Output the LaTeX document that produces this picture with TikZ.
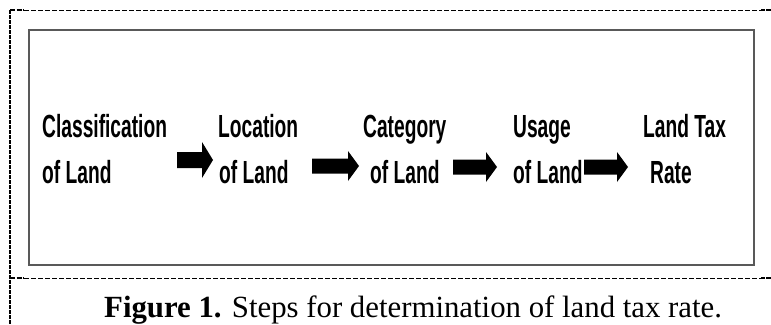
\documentclass[tikz,border=0pt]{standalone}
\usepackage{fontspec}
\setmainfont{Liberation Serif}
\newfontfamily\lblfont[FakeStretch=0.60]{Liberation Sans}
\usetikzlibrary{calc}
\tikzset{
  lbl/.style={anchor=base west, inner sep=0pt, text=black,
    font=\lblfont\bfseries\fontsize{32}{38}\selectfont},
  caption/.style={anchor=base west, inner sep=0pt, font=\fontsize{30.8}{36}\selectfont},
  hrule/.style={line width=0.9pt, dash pattern=on 5pt off 2pt},
  vrule/.style={line width=1.6pt, dash pattern=on 4pt off 1pt},
  endbit/.style={line width=1.8pt, dash pattern=on 5pt off 1.5pt},
  framebox/.style={draw=black!65, line width=2.2pt},
  blockfill/.style={fill=black}
}
\newcommand\blkarrow[4]{% start, end, half body, half head
  \fill[blockfill] ($(#1)+(0,-#3)$) -- ($(#2)+(-11,-#3)$) -- ($(#2)+(-11,-#4)$) -- (#2)
     -- ($(#2)+(-11,#4)$) -- ($(#2)+(-11,#3)$) -- ($(#1)+(0,#3)$) -- cycle;}
\begin{document}
\begin{tikzpicture}[x=1pt,y=-1pt]
\useasboundingbox (0,0) rectangle (771,324);
% table borders
\coordinate (tl) at (10,10);
\coordinate (tr) at (771,10);
\coordinate (ml) at (10,278);
\coordinate (mr) at (771,278);
\coordinate (bl) at (10,324);
\draw[hrule] (tl) -- (tr);
\draw[hrule] (ml) -- (mr);
\draw[vrule] (tl) -- (bl);
\draw[endbit] (tl) -- ++(14,0);
\draw[endbit] (ml) -- ++(14,0);
\draw[endbit] (tr) -- ++(-10,0);
\draw[endbit] (mr) -- ++(-10,0);
% inner frame
\draw[framebox] (29,30) rectangle (754,265);
% labels
\node[lbl] (t1a) at (42,137) {Classification};
\node[lbl] (t1b) at (42,183) {of Land};
\node[lbl] (t2a) at (218,137) {Location};
\node[lbl] (t2b) at (219,183) {of Land};
\node[lbl] (t3a) at (363,137) {Category};
\node[lbl] (t3b) at (370,183) {of Land};
\node[lbl] (t4a) at (513,137) {Usage};
\node[lbl] (t4b) at (513,183) {of Land};
\node[lbl] (t5a) at (643,137) {Land Tax};
\node[lbl] (t5b) at (650,183) {Rate};
% block arrows
\coordinate (a1s) at (177,160); \coordinate (a1e) at (213,160);
\coordinate (a2s) at (312,166); \coordinate (a2e) at (359,166);
\coordinate (a3s) at (453,167); \coordinate (a3e) at (497,167);
\coordinate (a4s) at (584,167); \coordinate (a4e) at (628,167);
\blkarrow{a1s}{a1e}{8}{18}
\blkarrow{a2s}{a2e}{7.5}{15}
\blkarrow{a3s}{a3e}{7.5}{15}
\blkarrow{a4s}{a4e}{7.5}{15}
% caption
\node[caption] (cap) at (104,317) {\textbf{Figure 1.} Steps for determination of land tax rate.};
\end{tikzpicture}
\end{document}
